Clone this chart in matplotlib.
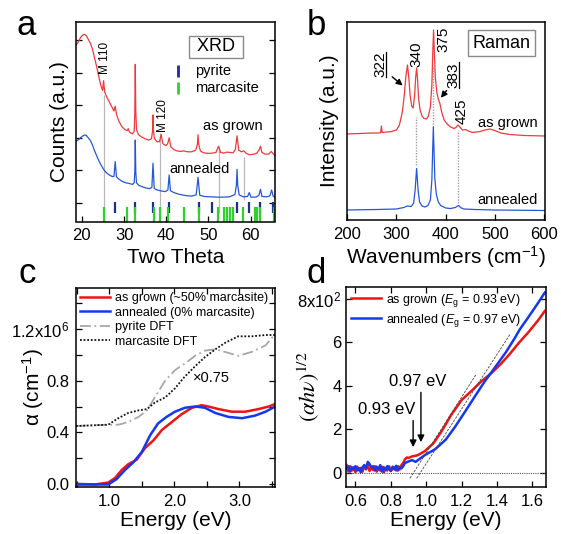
import matplotlib
matplotlib.use('Agg')
import matplotlib.pyplot as plt
from matplotlib.ticker import FixedLocator, NullFormatter

plt.rcParams['font.family'] = ['Liberation Sans', 'DejaVu Sans']
plt.rcParams['mathtext.fontset'] = 'custom'
plt.rcParams['mathtext.rm'] = 'Liberation Sans'
plt.rcParams['mathtext.it'] = 'Liberation Sans:italic'
plt.rcParams['mathtext.bf'] = 'Liberation Sans:bold'

# ---------------- data: (a) XRD ----------------
xrd_grown_x = [18.7, 19.2, 19.7, 20.2, 20.7, 21.1, 21.5, 22.0, 22.5, 23.0, 23.5, 24.0, 24.5, 24.9,
               25.15, 25.4, 25.9, 26.5, 27.1, 27.6, 27.9, 28.2, 28.8, 29.5, 30.2, 30.7, 31.0, 31.3,
               32.0, 32.4, 32.55, 32.66, 32.78, 32.95, 33.4, 34.2, 35.0, 35.8, 36.5, 36.75, 36.86,
               36.98, 37.2, 37.8, 38.4, 38.8, 39.2, 39.9, 40.35, 40.7, 41.1, 41.8, 42.5, 43.5, 44.1,
               45.0, 46.0, 47.0, 47.4, 47.55, 47.7, 48.1, 48.8, 50.0, 50.9, 51.8, 52.4, 52.9, 53.6,
               54.4, 55.1, 55.9, 56.4, 56.8, 57.2, 57.8, 58.4, 59.0, 59.7, 60.5, 61.4, 62.0, 62.35,
               62.7, 63.4, 64.3, 64.9, 65.3, 65.8]
xrd_grown_y = [4.85, 4.95, 5.08, 5.15, 5.17, 5.12, 5.02, 4.90, 4.72, 4.45, 4.18, 3.88, 3.60, 3.45,
               3.75, 3.40, 3.25, 3.10, 2.95, 2.82, 2.97, 2.72, 2.50, 2.34, 2.25, 2.22, 2.28, 2.17,
               2.12, 2.20, 2.75, 4.25, 2.80, 2.25, 2.10, 2.02, 1.97, 1.93, 1.97, 2.20, 2.70,
               2.20, 1.98, 1.88, 1.88, 2.10, 1.82, 1.76, 1.82, 2.00, 1.72, 1.64, 1.60, 1.58, 1.60,
               1.57, 1.57, 1.62, 1.80, 2.09, 1.80, 1.60, 1.54, 1.52, 1.53, 1.55, 1.74, 1.55, 1.53,
               1.56, 1.55, 1.54, 1.65, 2.06, 1.62, 1.57, 1.60, 1.52, 1.48, 1.49, 1.52, 1.62, 1.74,
               1.55, 1.50, 1.50, 1.58, 1.52, 1.45]
xrd_annealed_x = [18.7, 19.3, 19.9, 20.5, 21.0, 21.5, 22.0, 22.5, 23.0, 23.5, 24.0, 24.6, 25.2, 25.8,
                  26.5, 27.2, 27.6, 27.9, 28.2, 28.8, 29.6, 30.4, 31.2, 32.0, 32.4, 32.55, 32.66,
                  32.78, 32.95, 33.5, 34.3, 35.2, 36.0, 36.6, 36.86, 37.15, 37.8, 38.8, 39.8, 40.4,
                  40.7, 41.0, 41.8, 43.0, 44.5, 46.0, 47.1, 47.55, 47.95, 49.0, 50.5, 52.0, 53.5,
                  55.0, 56.3, 56.65, 56.8, 56.95, 57.3, 58.2, 59.3, 59.7, 60.1, 61.3, 62.0, 62.35,
                  62.7, 63.8, 64.6, 65.0, 65.4, 65.8]
xrd_annealed_y = [1.90, 1.95, 2.03, 2.08, 2.08, 2.00, 1.92, 1.78, 1.60, 1.45, 1.30, 1.15, 1.02, 0.93,
                  0.86, 0.81, 0.82, 1.27, 0.80, 0.73, 0.66, 0.62, 0.60, 0.57, 0.62, 0.95, 1.93,
                  0.95, 0.62, 0.54, 0.50, 0.46, 0.44, 0.48, 1.22, 0.45, 0.40, 0.37, 0.35, 0.40,
                  0.86, 0.38, 0.32, 0.27, 0.23, 0.21, 0.25, 0.79, 0.24, 0.20, 0.19, 0.18, 0.18,
                  0.19, 0.26, 0.55, 1.03, 0.55, 0.25, 0.19, 0.20, 0.32, 0.18, 0.18, 0.24, 0.42,
                  0.20, 0.19, 0.22, 0.40, 0.20, 0.18]
pyrite_ref = [27.91, 32.66, 36.86, 40.57, 47.7, 50.88, 56.82, 59.74, 62.35, 65.27]
marcasite_ref = [25.13, 30.69, 32.49, 37.0, 38.6, 40.33, 44.13, 47.7, 52.3, 53.63, 54.44, 55.06,
                 55.77, 58.24, 61.0, 61.57, 62.19, 65.68]
xrd_guides = [25.13, 38.6, 52.4, 58.4]
xrd_guide_top = [3.31, 2.15, 1.72, 1.41]
xrd_guide_bottom = [-0.57, -0.57, -0.31, 0.09]

# ---------------- data: (b) Raman ----------------
raman_grown_x = [200, 250, 266, 268, 269.5, 271, 290, 300, 306, 312, 316, 319, 322.5, 325, 328, 331,
                 334, 337, 339, 341, 343, 345, 348, 352, 356, 361, 365, 369, 372, 374, 375.5, 377,
                 379, 382, 385, 388, 392, 397, 403, 410, 417, 421, 425, 429, 434, 440, 446, 455,
                 470, 480, 490, 500, 512, 530, 560, 602]
raman_grown_y = [86, 87, 87, 87.5, 94, 87.5, 88.5, 90, 95, 108, 125, 143, 155, 143, 124, 114,
                 112, 125, 142, 152, 140, 122, 110, 104, 101.5, 101, 104, 113, 135, 170, 190, 168,
                 143, 128, 121, 117, 108, 100, 96, 93, 91.5, 92.5, 95, 93, 90, 90.5, 89, 87.5,
                 88.5, 90, 91, 89.5, 87, 85.5, 84.5, 84]
raman_annealed_x = [200, 260, 300, 315, 322, 330, 335, 338, 341, 344, 347, 352, 358, 364, 369, 372,
                    375, 378, 381, 385, 390, 400, 410, 420, 424, 427, 430, 437, 460, 500, 602]
raman_annealed_y = [10, 10.5, 11, 12.5, 14, 13.5, 17, 30, 51.5, 30, 18, 14, 13, 14.5, 20, 40,
                    93, 42, 26, 18, 14.5, 12, 11.5, 12.5, 14, 14.5, 12.5, 11, 10.5, 10, 9.5]
raman_guides = [340, 375, 425]
raman_guide_top = [103, 153, 90]
raman_guide_bottom = [55, 93, 17]

# ---------------- data: (c) absorption ----------------
abs_grown_x = [0.49, 0.78, 0.985, 1.09, 1.19, 1.29, 1.42, 1.55, 1.68, 1.81, 1.96, 2.11, 2.27, 2.42,
               2.52, 2.68, 2.88, 3.09, 3.29, 3.45, 3.55]
abs_grown_y = [0.005, 0.0, 0.015, 0.05, 0.11, 0.155, 0.19, 0.28, 0.34, 0.42, 0.48, 0.54, 0.59, 0.61,
               0.60, 0.58, 0.56, 0.56, 0.58, 0.60, 0.62]
abs_annealed_x = [0.49, 0.985, 1.11, 1.24, 1.37, 1.50, 1.63, 1.75, 1.88, 2.01, 2.16, 2.32, 2.47,
                  2.63, 2.83, 3.04, 3.24, 3.40, 3.55]
abs_annealed_y = [0.0, 0.0, 0.04, 0.11, 0.17, 0.25, 0.38, 0.47, 0.52, 0.56, 0.59, 0.60, 0.59,
                  0.55, 0.52, 0.51, 0.53, 0.56, 0.60]
dft_x = [0.49, 0.985, 1.14, 1.29, 1.45, 1.58, 1.70, 1.86, 2.01, 2.16, 2.32, 2.47, 2.63, 2.78, 2.98,
         3.19, 3.40, 3.55]
pyrite_dft_y = [0.45, 0.46, 0.46, 0.48, 0.52, 0.57, 0.67, 0.80, 0.88, 0.93, 0.99, 1.03, 1.04, 1.02,
                0.99, 1.02, 1.07, 1.16]
marcasite_dft_y = [0.45, 0.46, 0.51, 0.55, 0.57, 0.58, 0.63, 0.67, 0.74, 0.83, 0.91, 0.98, 1.04,
                   1.09, 1.14, 1.14, 1.15, 1.15]

# ---------------- data: (d) Tauc plot ----------------
tauc_grown_x = [0.55, 0.56, 0.57, 0.58, 0.59, 0.60, 0.61, 0.62, 0.63, 0.64, 0.65, 0.66, 0.67, 0.68,
                0.69, 0.70, 0.71, 0.72, 0.73, 0.74, 0.75, 0.76, 0.77, 0.78, 0.79, 0.80, 0.81, 0.82,
                0.83, 0.84, 0.85, 0.86, 0.87, 0.88, 0.89, 0.90, 0.92, 0.95, 0.99, 1.04, 1.09, 1.14,
                1.20, 1.26, 1.31, 1.37, 1.42, 1.47, 1.52, 1.58, 1.63, 1.67]
tauc_grown_y = [0.35, 0.05, 0.30, 0.10, 0.25, 0.02, 0.28, 0.12, 0.22, 0.05, 0.30, 0.15, 0.35, 0.08,
                0.25, 0.12, 0.30, 0.05, 0.20, 0.10, 0.28, 0.02, 0.22, 0.10, 0.30, 0.08, 0.18, 0.25,
                0.10, 0.30, 0.15, 0.35, 0.45, 0.62, 0.70, 0.68, 0.75, 0.80, 0.98, 1.35, 1.95, 2.65,
                3.35, 3.80, 4.20, 4.60, 5.00, 5.45, 5.95, 6.50, 7.00, 7.45]
tauc_annealed_x = [0.55, 0.56, 0.57, 0.58, 0.59, 0.60, 0.61, 0.62, 0.63, 0.64, 0.65, 0.66, 0.67, 0.68,
                   0.69, 0.70, 0.71, 0.72, 0.73, 0.74, 0.75, 0.76, 0.77, 0.78, 0.79, 0.80, 0.81, 0.82,
                   0.83, 0.84, 0.85, 0.86, 0.87, 0.88, 0.90, 0.92, 0.94, 0.96, 0.99, 1.05, 1.11, 1.16,
                   1.22, 1.28, 1.33, 1.40, 1.45, 1.50, 1.53, 1.58, 1.63, 1.67]
tauc_annealed_y = [0.20, 0.30, 0.05, 0.25, 0.15, 0.30, 0.10, 0.20, 0.02, 0.25, 0.35, 0.20, 0.50, 0.40,
                   0.25, 0.30, 0.10, 0.28, 0.15, 0.35, 0.05, 0.25, 0.12, 0.30, 0.18, 0.08, 0.28, 0.15,
                   0.32, 0.10, 0.25, 0.20, 0.30, 0.45, 0.52, 0.58, 0.50, 0.62, 0.80, 1.08, 1.52, 2.08,
                   2.82, 3.58, 4.20, 4.98, 5.55, 6.20, 6.62, 7.20, 7.80, 8.30]
fit_grown_x = [0.908, 1.281]
fit_grown_y = [-0.26, 4.52]
fit_annealed_x = [0.946, 1.473]
fit_annealed_y = [-0.26, 6.37]
eg_grown = 0.93
eg_annealed = 0.97

# ---------------- layout ----------------
W, H = 561, 534
fig = plt.figure(figsize=(W / 100, H / 100), dpi=100)


def px_axes(l, t, r, b):
    return fig.add_axes([l / W, 1 - b / H, (r - l) / W, (b - t) / H])


RED = '#f03a3a'
BLUE = '#2457d8'
RED2 = '#ee1414'
BLUE2 = '#1438ee'
TICK = 12
LAB = 15

axa = px_axes(76, 22, 275, 221.5)
axb = px_axes(347, 22, 545, 220)
axc = px_axes(76, 287.7, 275.3, 486.7)
axd = px_axes(345.7, 286.7, 545.7, 486.7)

for ax in (axa, axb, axc, axd):
    for s in ax.spines.values():
        s.set_linewidth(1.1)
    ax.tick_params(direction='in', length=4, width=0.9, labelsize=TICK, pad=5)

for letter, x, y in (('a', 17, 35), ('b', 307, 35), ('c', 18, 283), ('d', 306, 283)):
    fig.text(x / W, 1 - y / H, letter, fontsize=25, va='baseline', ha='left')

# ---- (a) XRD ----
ax = axa
ax.vlines(xrd_guides, xrd_guide_bottom, xrd_guide_top, color='#b8b8b8', lw=0.9)
ax.plot(xrd_grown_x, xrd_grown_y, color=RED, lw=0.9)
ax.plot(xrd_annealed_x, xrd_annealed_y, color=BLUE, lw=0.9)
ax.vlines(pyrite_ref, -0.32, 0.03, color='#1a2f90', lw=1.6)
ax.vlines(marcasite_ref, -0.57, -0.13, color='#2fd12f', lw=1.6)
ax.set_xlim(18.6, 65.8)
ax.set_ylim(-0.567, 5.55)
ax.set_xticks([20, 30, 40, 50, 60])
ax.set_yticks([0, 1, 2, 3, 4, 5])
ax.yaxis.set_major_formatter(NullFormatter())
ax.tick_params(axis='y', right=True)
ax.set_xlabel('Two Theta', fontsize=LAB)
ax.xaxis.set_label_coords(0.5, -0.135)
ax.set_ylabel('Counts (a.u.)', fontsize=LAB)
ax.yaxis.set_label_coords(-0.035, 0.5)
ax.text(25.5, 4.45, 'M 110', rotation=90, fontsize=8.5, ha='center', va='center')
ax.text(39.2, 2.67, 'M 120', rotation=90, fontsize=8.5, ha='center', va='center')
ax.text(51.8, 4.79, ' XRD ', fontsize=13, ha='center', va='center',
        bbox=dict(boxstyle='square,pad=0.15', fc='white', ec='#8a8a8a', lw=1))
ax.plot([0.514], [0.755], transform=ax.transAxes, marker='|', ms=8, mew=2, color='#1a2f90')
ax.plot([0.514], [0.67], transform=ax.transAxes, marker='|', ms=8, mew=2, color='#2fd12f')
ax.text(0.598, 0.755, 'pyrite', transform=ax.transAxes, fontsize=10.5, va='center')
ax.text(0.598, 0.67, 'marcasite', transform=ax.transAxes, fontsize=10.5, va='center')
ax.text(55.8, 2.36, 'as grown', fontsize=10.5, ha='center', va='center')
ax.text(48.0, 1.04, 'annealed', fontsize=10.5, ha='center', va='center')

# ---- (b) Raman ----
ax = axb
ax.vlines(raman_guides, raman_guide_bottom, raman_guide_top, color='#a0a0a0', lw=1.0,
          linestyles=(0, (1, 1)))
ax.plot(raman_grown_x, raman_grown_y, color=RED, lw=0.9)
ax.plot(raman_annealed_x, raman_annealed_y, color=BLUE, lw=0.9)
ax.set_xlim(199.5, 602)
ax.set_ylim(0, 198)
ax.set_xticks([200, 300, 400, 500, 600])
ax.set_yticks([])
ax.set_xlabel('Wavenumbers (cm$^{-1}$)', fontsize=LAB)
ax.xaxis.set_label_coords(0.5, -0.12)
ax.set_ylabel('Intensity (a.u.)', fontsize=LAB)
ax.yaxis.set_label_coords(-0.038, 0.5)
for lab, x, y in (('322', 266.5, 155.5), ('340', 341, 166), ('375', 395, 181),
                  ('383', 415.6, 145), ('425', 432.7, 109)):
    ax.text(x, y, lab, rotation=90, fontsize=11, ha='center', va='center')
ax.plot([279, 279], [143, 168], color='k', lw=0.9)
ax.plot([428, 428], [132, 158], color='k', lw=0.9)
ax.annotate('', xy=(317, 132.7), xytext=(287, 145),
            arrowprops=dict(arrowstyle='-|>', color='k', lw=1, mutation_scale=9))
ax.annotate('', xy=(387, 120), xytext=(405.5, 131.7),
            arrowprops=dict(arrowstyle='-|>', color='k', lw=1, mutation_scale=9))
ax.text(513, 177, 'Raman', fontsize=13, ha='center', va='center',
        bbox=dict(boxstyle='square,pad=0.25', fc='white', ec='#8a8a8a', lw=1))
ax.text(526.8, 97, 'as grown', fontsize=10.5, ha='center', va='center')
ax.text(526.8, 20, 'annealed', fontsize=10.5, ha='center', va='center')

# ---- (c) absorption ----
ax = axc
ax.plot(abs_grown_x, abs_grown_y, color=RED2, lw=1.8, label='as grown (~50% marcasite)')
ax.plot(abs_annealed_x, abs_annealed_y, color=BLUE2, lw=1.8, label='annealed (0% marcasite)')
ax.plot(dft_x, pyrite_dft_y, color='#a8a8a8', lw=1.3, ls=(0, (6, 2, 1, 2)), label='pyrite DFT')
ax.plot(dft_x, marcasite_dft_y, color='#111111', lw=1.3, ls=(0, (1, 1)), label='marcasite DFT')
ax.set_xlim(0.49, 3.55)
ax.set_ylim(-0.017, 1.514)
ax.set_xticks([1, 2, 3])
ax.set_xticklabels(['1.0', '2.0', '3.0'])
ax.xaxis.set_minor_locator(FixedLocator([0.5, 1.5, 2.5, 3.5]))
ax.set_yticks([0, 0.4, 0.8, 1.2])
ax.set_yticklabels(['0.0', '0.4', '0.8', '1.2x10$^6$'])
ax.yaxis.set_minor_locator(FixedLocator([0.2, 0.6, 1.0, 1.4]))
ax.tick_params(which='both', direction='in', top=True, right=True, length=4, width=0.9)
ax.set_xlabel('Energy (eV)', fontsize=LAB)
ax.xaxis.set_label_coords(0.5, -0.12)
ax.set_ylabel('α (cm$^{-1}$)', fontsize=LAB)
ax.yaxis.set_label_coords(-0.15, 0.5)
ax.text(2.29, 0.82, '×0.75', fontsize=10.5, ha='left', va='center')
ax.legend(loc='upper left', frameon=False, fontsize=9, handlelength=2.4, handletextpad=0.4,
          labelspacing=0.2, borderaxespad=0.15, borderpad=0.2)

# ---- (d) Tauc ----
ax = axd
ax.axhline(0, color='#555555', lw=0.8, ls=(0, (1, 1)))
ax.plot(tauc_grown_x, tauc_grown_y, color=RED2, lw=1.8,
        label='as grown ($E_{\\rm g}$ = %.2f eV)' % eg_grown)
ax.plot(tauc_annealed_x, tauc_annealed_y, color=BLUE2, lw=1.8,
        label='annealed ($E_{\\rm g}$ = %.2f eV)' % eg_annealed)
ax.plot(fit_grown_x, fit_grown_y, color='#444444', lw=0.6, ls=(0, (3, 1.5)))
ax.plot(fit_annealed_x, fit_annealed_y, color='#444444', lw=0.6, ls=(0, (3, 1.5)))
ax.annotate('', xy=(eg_grown - 0.004, 1.05), xytext=(eg_grown - 0.004, 2.53),
            arrowprops=dict(arrowstyle='-|>', color='k', lw=1, mutation_scale=10))
ax.annotate('', xy=(eg_annealed, 1.28), xytext=(eg_annealed, 3.83),
            arrowprops=dict(arrowstyle='-|>', color='k', lw=1, mutation_scale=10))
ax.text(0.778, 2.93, '%.2f eV' % eg_grown, fontsize=12, ha='center', va='center')
ax.text(0.95, 4.18, '%.2f eV' % eg_annealed, fontsize=12, ha='center', va='center')
ax.set_xlim(0.545, 1.675)
ax.set_ylim(-0.645, 8.57)
ax.set_xticks([0.6, 0.8, 1.0, 1.2, 1.4, 1.6])
ax.set_yticks([0, 2, 4, 6, 8])
ax.set_yticklabels(['0', '2', '4', '6', '8x10$^2$'])
ax.tick_params(direction='in', top=True, right=True, length=4, width=0.9)
ax.tick_params(axis='y', pad=3)
ax.set_xlabel('Energy (eV)', fontsize=LAB)
ax.xaxis.set_label_coords(0.5, -0.12)
ax.set_ylabel('$(\\alpha h\\nu)^{1/2}$', fontsize=LAB + 1, math_fontfamily='stix')
ax.yaxis.set_label_coords(-0.12, 0.5)
ax.legend(loc='upper left', frameon=False, fontsize=9, handlelength=2.4, handletextpad=0.4,
          labelspacing=0.25, borderaxespad=0.2, borderpad=0.2)

fig.savefig('out.png', dpi=100)
